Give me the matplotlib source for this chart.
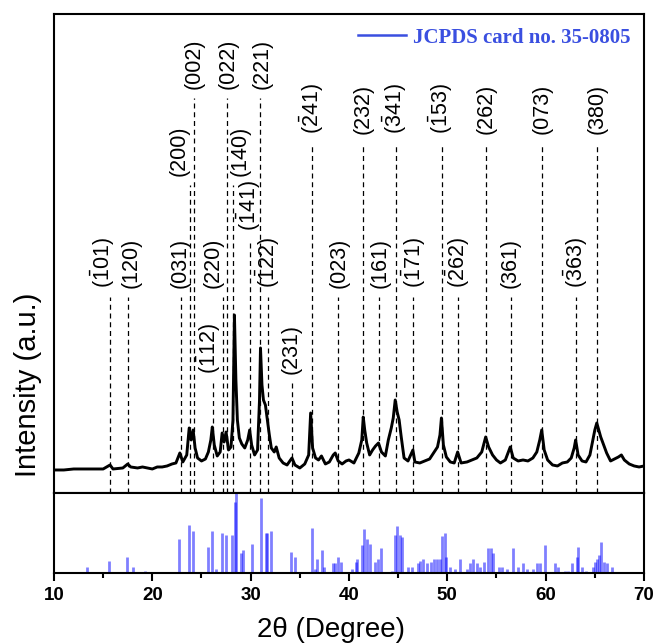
"""XRD pattern with hkl index lines and JCPDS 35-0805 reference sticks."""
import matplotlib
matplotlib.use("Agg")
import matplotlib.pyplot as plt
from matplotlib.lines import Line2D

plt.rcParams["font.family"] = ["Liberation Sans", "DejaVu Sans"]
plt.rcParams["mathtext.fontset"] = "custom"
plt.rcParams["mathtext.rm"] = "Liberation Sans"
plt.rcParams["mathtext.it"] = "Liberation Sans:italic"
plt.rcParams["mathtext.bf"] = "Liberation Sans:bold"
BLUE = "#0000ff"; LEG = "#3a4fe0"

tt = [10.0, 11.0, 12.0, 13.0, 14.0, 15.0, 15.7, 16.0, 17.0, 17.5, 17.8, 18.5, 19.0, 19.5,
      20.0, 20.5, 21.0, 21.5, 22.0, 22.4, 22.8, 23.1, 23.5, 23.75, 23.95, 24.15, 24.35, 24.6,
      25.0, 25.4, 25.7, 25.95, 26.1, 26.3, 26.6, 26.9, 27.1, 27.3, 27.5, 27.75, 28.0, 28.2,
      28.35, 28.5, 28.65, 28.85, 29.1, 29.4, 29.7, 29.9, 30.1, 30.4, 30.7, 30.9, 31.0, 31.15,
      31.3, 31.5, 31.7, 31.9, 32.1, 32.4, 32.6, 32.9, 33.3, 33.7, 34.2, 34.5, 35.0, 35.5,
      35.9, 36.1, 36.3, 36.6, 36.9, 37.2, 37.6, 38.0, 38.4, 38.6, 38.9, 39.3, 39.7, 40.0,
      40.5, 41.0, 41.3, 41.45, 41.6, 41.8, 42.1, 42.4, 42.7, 43.0, 43.3, 43.7, 44.0, 44.3,
      44.5, 44.7, 44.9, 45.1, 45.3, 45.6, 46.0, 46.5, 46.7, 47.2, 47.7, 48.2, 48.6, 49.0,
      49.25, 49.4, 49.6, 49.9, 50.3, 50.7, 51.05, 51.4, 52.0, 52.5, 53.0, 53.5, 53.9, 54.2,
      54.6, 55.0, 55.4, 55.9, 56.4, 56.7, 57.2, 57.7, 58.2, 58.7, 59.1, 59.4, 59.6, 59.85,
      60.2, 60.7, 61.2, 61.7, 62.2, 62.6, 62.9, 63.05, 63.3, 63.7, 64.1, 64.5, 64.8, 65.0,
      65.2, 65.4, 65.6, 65.9, 66.2, 66.6, 67.0, 67.4, 67.7, 68.0, 68.5, 69.0, 69.5, 70.0]
counts = [23, 23, 24, 24, 24, 24, 28, 24, 25, 29, 26, 25, 26, 25,
          24, 26, 26, 27, 29, 30, 40, 31, 38, 65, 53, 63, 45, 35,
          32, 34, 41, 53, 66, 48, 37, 41, 60, 51, 61, 43, 46, 73,
          178, 113, 73, 55, 49, 45, 53, 63, 48, 38, 43, 93, 145, 108,
          93, 88, 73, 58, 45, 41, 46, 35, 30, 28, 35, 28, 25, 29,
          38, 80, 45, 35, 33, 37, 29, 31, 38, 40, 32, 29, 32, 33,
          30, 40, 53, 76, 63, 50, 38, 43, 47, 50, 41, 37, 53, 65,
          75, 93, 81, 73, 57, 35, 32, 43, 31, 30, 32, 34, 40, 46,
          58, 75, 48, 36, 31, 30, 41, 30, 31, 33, 35, 41, 56, 46,
          38, 33, 30, 33, 46, 35, 32, 33, 32, 35, 41, 53, 63, 43,
          33, 28, 27, 30, 31, 35, 45, 53, 38, 32, 31, 38, 53, 63,
          70, 63, 56, 48, 40, 32, 34, 36, 38, 33, 29, 27, 26, 27]

# indexed reflections
hkl = [r"$(\bar{1}01)$", "(120)", "(031)", "(200)", "(002)", r"$(\bar{1}12)$", "(220)",
       "(022)", "(140)", r"$(\bar{1}41)$", "(221)", r"$(\bar{1}22)$", "(231)", r"$(\bar{2}41)$",
       "(023)", "(232)", "(161)", r"$(\bar{3}41)$", r"$(\bar{1}71)$", r"$(\bar{1}53)$",
       r"$(\bar{2}62)$", "(262)", "(361)", "(073)", r"$(\bar{3}63)$", "(380)"]
hkl_pos = [15.7, 17.5, 22.9, 23.83, 24.24, 26.14, 27.15, 27.56, 28.23, 29.93, 31.0, 31.74,
           34.17, 36.22, 38.92, 41.46, 43.08, 44.75, 46.54, 49.43, 51.06, 53.93, 56.44,
           59.6, 63.06, 65.19]
# label x (deg) and dashed-line top (a.u.) - layout only
lab_x = [14.95, 17.8, 22.85, 22.7, 24.3, 25.8, 26.2, 27.7, 28.9, 29.8, 31.2, 31.8, 34.15,
         36.2, 38.95, 41.4, 43.15, 44.7, 46.6, 49.4, 51.1, 53.9, 56.4, 59.6, 63.1, 65.2]
top = [196, 196, 196, 308, 395, 110, 196, 395, 308, 253, 395, 196, 110, 350, 196, 350, 196,
       350, 196, 350, 196, 350, 196, 350, 196, 350]

# JCPDS 35-0805 sticks
ref_pos = [13.39, 15.59, 17.39, 18.07, 19.26, 22.71, 23.73, 24.17, 25.69, 26.1, 26.44, 27.12,
           27.46, 28.13, 28.41, 28.51, 29.05, 29.25, 30.17, 31.02, 31.53, 31.63, 32.04, 34.07,
           34.5, 36.2, 36.54, 36.78, 37.22, 37.46, 38.34, 38.58, 38.92, 39.15, 40.27, 40.68,
           40.85, 41.29, 41.56, 41.8, 42.14, 42.65, 42.98, 43.22, 44.34, 44.68, 44.92, 45.19,
           45.42, 45.97, 46.38, 46.99, 47.22, 47.56, 47.9, 48.31, 48.64, 48.92, 49.26, 49.43,
           49.76, 49.86, 50.27, 50.78, 51.29, 51.97, 52.31, 52.65, 53.05, 53.32, 53.73, 54.17,
           54.41, 54.68, 55.26, 55.53, 56.04, 56.71, 57.22, 57.66, 58.13, 58.74, 59.15, 59.42,
           59.93, 60.95, 61.29, 61.97, 62.31, 62.65, 63.16, 63.33, 63.67, 64.11, 64.79, 65.02,
           65.26, 65.46, 65.6, 65.93, 66.21, 66.72]
ref_int = [8, 15, 20, 8, 2.5, 43, 60, 53, 32, 53, 5, 50,
           47, 47, 89, 100, 25, 29, 36, 94, 50, 50, 52, 26,
           20, 56, 5, 17, 29, 8, 12, 12, 20, 14, 5, 14,
           17, 35, 55, 42, 36, 14, 17, 31, 2.5, 47, 59, 47,
           45, 8, 8, 13, 15, 18, 12, 14, 18, 18, 18, 46,
           50, 20, 8, 5, 17, 5, 12, 18, 13, 8, 14, 31,
           31, 25, 8, 8, 5, 31, 8, 12, 5, 5, 12, 12,
           35, 12, 8, 2.5, 2.5, 12, 20, 32, 8, 2.5, 8, 14,
           18, 22, 39, 14, 12, 8]

fig = plt.figure(figsize=(6.56, 6.44), dpi=100)
ax = fig.add_axes([0.0823, 0.2345, 0.8994, 0.7438])
bx = fig.add_axes([0.0823, 0.1102, 0.8994, 0.1242], sharex=ax)

ax.plot(tt, counts, color="black", lw=2.1)
for x, lx, t, lab in zip(hkl_pos, lab_x, top, hkl):
    ax.plot([x, x], [0, t], color="black", lw=0.9, ls=(0, (4, 3)))
    ax.text(lx, t + 9, lab, rotation=90, rotation_mode="anchor", ha="left", va="center",
            fontsize=15.5)
ax.set_xlim(10, 70); ax.set_ylim(0, 479)
ax.tick_params(left=False, bottom=False, labelleft=False, labelbottom=False)
ax.set_ylabel("Intensity (a.u.)", fontsize=21)
ax.yaxis.set_label_coords(-0.021, 0.225)
ax.legend([Line2D([], [], color=LEG, lw=1.8)], ["JCPDS card no. 35-0805"], loc="upper right",
          frameon=False, handlelength=2.3, handletextpad=0.35, borderaxespad=0.25,
          prop=dict(family="Liberation Serif", weight="bold", size=15), labelcolor=LEG)

bx.vlines(ref_pos, 0, ref_int, color=BLUE, alpha=0.5, lw=2)
bx.set_ylim(0, 100)
bx.set_xticks(range(10, 71, 10))
bx.set_xticks(range(15, 70, 10), minor=True)
bx.tick_params(axis="x", which="major", direction="out", length=6, width=1.5, pad=4,
               labelsize=13.5)
bx.tick_params(axis="x", which="minor", direction="out", length=3.5, width=1.5)
bx.tick_params(left=False, labelleft=False)
for t in bx.get_xticklabels(): t.set_fontweight("bold")
bx.set_xlabel("2θ (Degree)", fontsize=20)
bx.xaxis.set_label_coords(0.47, -0.55)
for a in (ax, bx):
    for s in a.spines.values(): s.set_linewidth(1.5)

fig.savefig("out.png", dpi=100, facecolor="white")
